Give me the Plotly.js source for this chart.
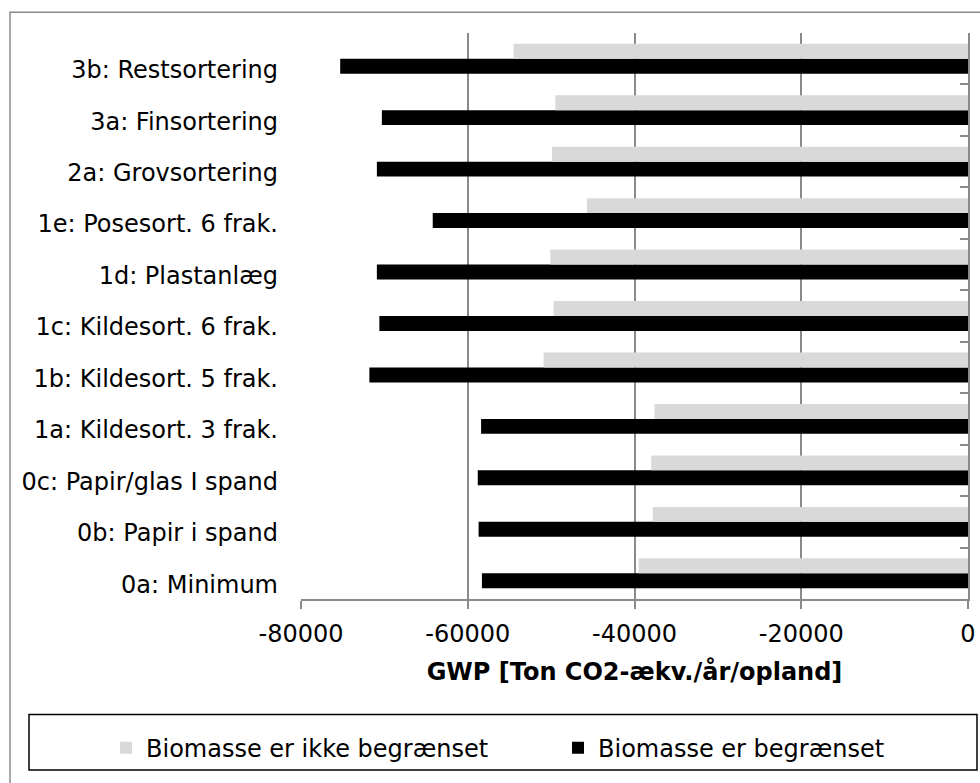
<!DOCTYPE html>
<html>
<head>
<meta charset="utf-8">
<script src="https://cdn.plot.ly/plotly-3.0.1.min.js"></script>
<style>html,body{margin:0;padding:0;background:#fff;}#chart{width:980px;height:783px;}</style>
</head>
<body>
<div id="chart"></div>
<script>
const categories = ["0a: Minimum", "0b: Papir i spand", "0c: Papir/glas I spand", "1a: Kildesort. 3 frak.",
  "1b: Kildesort. 5 frak.", "1c: Kildesort. 6 frak.", "1d: Plastanlæg", "1e: Posesort. 6 frak.",
  "2a: Grovsortering", "3a: Finsortering", "3b: Restsortering"];
const ikkeBegraenset = [-39500, -37800, -38000, -37600, -50900, -49700, -50100, -45700, -49900, -49500, -54500];
const begraenset = [-58300, -58700, -58800, -58400, -71800, -70600, -70900, -64200, -70900, -70300, -75300];
const xTickVals = [-80000, -60000, -40000, -20000, 0];
const xTickText = ["-80000", "-60000", "-40000", "-20000", "0"];
const seriesNames = ["Biomasse er ikke begrænset", "Biomasse er begrænset"];

const W = 980, H = 783;
const M = {l: 301, r: 12, t: 33, b: 177};
const pw = W - M.l - M.r, ph = H - M.t - M.b;
const px = x => (x - M.l) / pw;
const py = y => (H - M.b - y) / ph;
const FONT = "DejaVu Sans, Verdana, sans-serif";

const traces = [
  {type: "bar", orientation: "h", name: seriesNames[1], y: categories, x: begraenset,
   marker: {color: "#000000"}, hoverinfo: "x+y", legend: "legend2"},
  {type: "bar", orientation: "h", name: seriesNames[0], y: categories, x: ikkeBegraenset,
   marker: {color: "#d9d9d9"}, hoverinfo: "x+y", legend: "legend"},
  {type: "scatter", mode: "none", y: categories, x: categories.map(() => null),
   yaxis: "y2", showlegend: false, hoverinfo: "skip"}
];

const legendBase = {
  orientation: "h", xanchor: "left", yanchor: "middle", y: py(757),
  font: {size: 24, family: FONT}, bgcolor: "rgba(0,0,0,0)", borderwidth: 0,
  itemclick: false, itemdoubleclick: false
};

const layout = {
  width: W, height: H,
  margin: M,
  paper_bgcolor: "#ffffff", plot_bgcolor: "#ffffff",
  font: {family: FONT, size: 24, color: "#000000"},
  barmode: "group", bargap: 0.42, bargroupgap: 0,
  showlegend: true,
  xaxis: {
    range: [-80000, 0], tickvals: xTickVals, ticktext: xTickText,
    showgrid: true, gridcolor: "#8a8a8a", gridwidth: 1.5,
    zeroline: false, showline: true, linecolor: "#8a8a8a", linewidth: 1.5,
    ticks: "outside", ticklen: 8, tickcolor: "#8a8a8a", tickwidth: 1.5,
    ticklabelstandoff: 4,
    tickfont: {size: 24, family: FONT},
    title: {text: "<b>GWP [Ton CO2-ækv./år/opland]</b>", font: {size: 24, family: FONT}, standoff: 17},
    automargin: false, fixedrange: true
  },
  yaxis: {
    type: "category", categoryorder: "array", categoryarray: categories,
    range: [-0.5, categories.length - 0.5],
    showgrid: false, zeroline: false, showline: false, ticks: "",
    ticklabelshift: 11,
    ticklabelstandoff: 22, tickfont: {size: 24, family: FONT},
    automargin: false, fixedrange: true
  },
  yaxis2: {
    type: "category", categoryorder: "array", categoryarray: categories,
    overlaying: "y", side: "right", anchor: "x",
    range: [-0.5, categories.length - 0.5],
    showgrid: false, zeroline: false, showline: true, linecolor: "#8a8a8a", linewidth: 1.5,
    ticks: "inside", tickson: "boundaries", ticklen: 8, tickcolor: "#8a8a8a", tickwidth: 1.5,
    showticklabels: false, fixedrange: true
  },
  legend: Object.assign({}, legendBase, {x: px(106)}),
  legend2: Object.assign({}, legendBase, {x: px(558)}),
  shapes: [
    {type: "rect", xref: "paper", yref: "paper", x0: px(10), x1: px(1000), y0: py(12), y1: py(800),
     line: {color: "#8a8a8a", width: 1.5}, fillcolor: "rgba(0,0,0,0)", layer: "below"},
    {type: "rect", xref: "paper", yref: "paper", x0: px(29), x1: px(977), y0: py(723), y1: py(779),
     line: {color: "#000000", width: 1.5}, fillcolor: "rgba(0,0,0,0)", layer: "above"}
  ]
};

Plotly.newPlot("chart", traces, layout, {displayModeBar: false, staticPlot: false});
</script>
</body>
</html>
